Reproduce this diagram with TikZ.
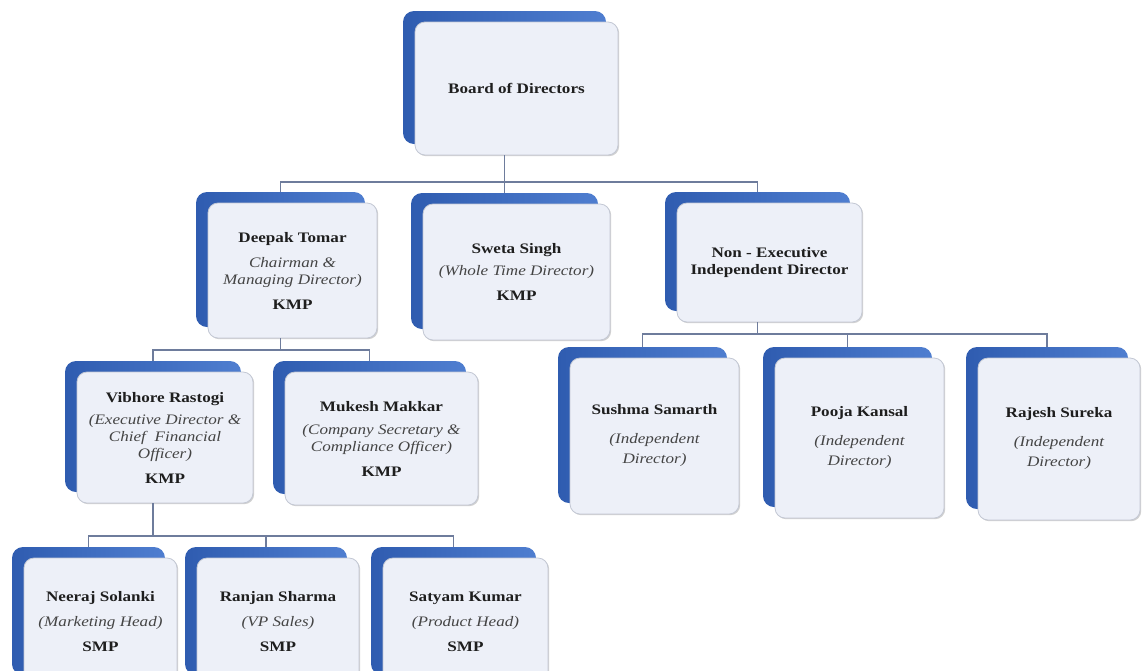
\documentclass[tikz,border=0pt]{standalone}
\usepackage{fontspec}
\setmainfont{Liberation Serif}[FakeStretch=1.18]
\usetikzlibrary{shadows}
\definecolor{blueD}{HTML}{2F5CB0}
\definecolor{blueM}{HTML}{4F7ED0}
\definecolor{frontfill}{HTML}{EDF0F8}
\definecolor{frontline}{HTML}{C3C8D4}
\definecolor{connc}{HTML}{6E7C9C}
\definecolor{namec}{HTML}{1E1E1E}
\definecolor{rolec}{HTML}{444444}
\tikzset{
  backbox/.style={rectangle, rounded corners=11pt, left color=blueD, right color=blueM, draw=none, inner sep=0pt},
  frontbox/.style={rectangle, rounded corners=10pt, fill=frontfill, draw=frontline, line width=0.8pt, inner sep=0pt, align=center,
     drop shadow={shadow xshift=1.2pt, shadow yshift=-1.2pt, opacity=0.18, fill=black},
     font=\fontsize{14.5}{17}\selectfont},
  conn/.style={draw=connc, line width=1.2pt},
}
\newcommand{\nm}[1]{{\color{namec}\bfseries #1}}
\newcommand{\rl}[1]{{\color{rolec}\itshape #1}}
\newcommand{\orgbox}[6]{%
  \node[backbox, minimum width={(#4-#2)*1pt}, minimum height={(#5-#3)*1pt}] (#1b) at ({(#2+#4)/2-12},{(#3+#5)/2-11}) {};
  \node[frontbox, minimum width={(#4-#2)*1pt}, minimum height={(#5-#3)*1pt}] (#1) at ({(#2+#4)/2},{(#3+#5)/2}) {#6};
}
\begin{document}
\begin{tikzpicture}[x=1pt,y=-1pt]
\useasboundingbox[fill=white] (0,0) rectangle (1142,670);

\orgbox{board}{415}{22}{618}{155}{\nm{Board of Directors}}
\orgbox{deepak}{208}{203}{377}{338}{\nm{Deepak Tomar}\\[8pt]\rl{Chairman \&}\\\rl{Managing Director)}\\[8pt]\nm{KMP}}
\orgbox{sweta}{423}{204}{610}{340}{\nm{Sweta Singh}\\[5pt]\rl{(Whole Time Director)}\\[8pt]\nm{KMP}}
\orgbox{nonexec}{677}{203}{862}{322}{\nm{Non - Executive}\\\nm{Independent Director}}
\orgbox{vibhore}{77}{372}{253}{503}{\nm{Vibhore Rastogi}\\[5pt]\rl{(Executive Director \&}\\\rl{Chief~ Financial}\\\rl{Officer)}\\[8pt]\nm{KMP}}
\orgbox{mukesh}{285}{372}{478}{505}{\nm{Mukesh Makkar}\\[6pt]\rl{(Company Secretary \&}\\\rl{Compliance Officer)}\\[8pt]\nm{KMP}}
\orgbox{sushma}{570}{358}{739}{514}{\nm{Sushma Samarth}\\[12pt]\rl{(Independent}\\[3pt]\rl{Director)}}
\orgbox{pooja}{775}{358}{944}{518}{\nm{Pooja Kansal}\\[12pt]\rl{(Independent}\\[3pt]\rl{Director)}}
\orgbox{rajesh}{978}{358}{1140}{520}{\nm{Rajesh Sureka}\\[12pt]\rl{(Independent}\\[3pt]\rl{Director)}}
\orgbox{neeraj}{24}{558}{177}{686}{\nm{Neeraj Solanki}\\[8pt]\rl{(Marketing Head)}\\[8pt]\nm{SMP}}
\orgbox{ranjan}{197}{558}{359}{686}{\nm{Ranjan Sharma}\\[8pt]\rl{(VP Sales)}\\[8pt]\nm{SMP}}
\orgbox{satyam}{383}{558}{548}{686}{\nm{Satyam Kumar}\\[8pt]\rl{(Product Head)}\\[8pt]\nm{SMP}}

% buses
\coordinate (bus1) at (504.5,182);
\coordinate (bus2) at (280.5,350);
\coordinate (bus3) at (757.5,334);
\coordinate (bus4) at (153,536);

\draw[conn] (board.south -| bus1) -- (bus1);
\draw[conn] (deepakb.north) |- (bus1) -| (nonexecb.north);
\draw[conn] (bus1) -- (swetab.north);

\draw[conn] (deepak.south -| bus2) -- (bus2);
\draw[conn] (vibhoreb.north) |- (bus2) -| (mukeshb.north);

\draw[conn] (nonexec.south -| bus3) -- (bus3);
\draw[conn] (sushmab.north) |- (bus3) -| (rajeshb.north);
\draw[conn] (poojab.north) -- (poojab.north |- bus3);

\draw[conn] (vibhore.south -| bus4) -- (bus4);
\draw[conn] (neerajb.north) |- (bus4) -| (satyamb.north);
\draw[conn] (ranjanb.north) -- (ranjanb.north |- bus4);
\end{tikzpicture}
\end{document}
